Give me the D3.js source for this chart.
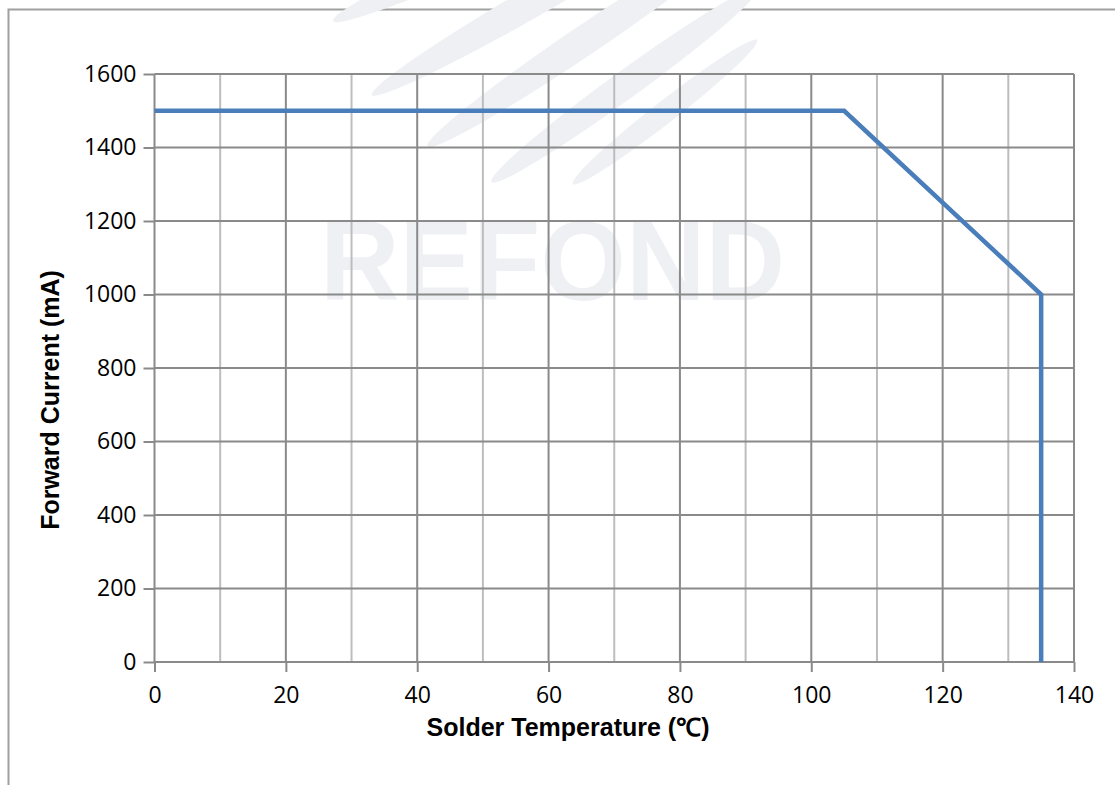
<!DOCTYPE html>
<html><head><meta charset="utf-8">
<script src="https://cdn.jsdelivr.net/npm/d3@7"></script>
<style>body{margin:0;background:#fff}svg{display:block}</style>
</head><body>
<svg id="c" width="1115" height="785"></svg>
<script>
const temps = [0, 105, 135, 135];
const currents = [1500, 1500, 1000, 0];
const xTicks = [0, 20, 40, 60, 80, 100, 120, 140];
const xMinorGrid = [10, 30, 50, 70, 90, 110, 130];
const yTicks = [0, 200, 400, 600, 800, 1000, 1200, 1400, 1600];
const xTitle = "Solder Temperature (℃)";
const yTitle = "Forward Current (mA)";
const watermark = "REFOND";

const svg = d3.select("#c");
const L = 154.5, R = 1074, T = 74, B = 662;
const x = d3.scaleLinear().domain([0, 140]).range([L, R]);
const y = d3.scaleLinear().domain([0, 1600]).range([B, T]);

// outer frame
svg.append("path").attr("d", "M8.5,785 L8.5,9.5 L1115,9.5").attr("fill", "none").attr("stroke", "#a0a0a0").attr("stroke-width", 2);

// watermark swooshes (decorative)
const wm = svg.append("g").attr("fill", "#eef0f4");
[[470, -40, 150, 13, -24], [545, -5, 200, 15, -30], [585, 40, 190, 15, -34], [625, 85, 165, 14, -36], [665, 112, 117, 11, -38]]
  .forEach(([cx, cy, rx, ry, a]) => {
    wm.append("ellipse").attr("cx", cx).attr("cy", cy).attr("rx", rx).attr("ry", ry)
      .attr("transform", `rotate(${a},${cx},${cy})`);
  });
svg.append("text").attr("x", 320).attr("y", 300).attr("textLength", 465).attr("lengthAdjust", "spacingAndGlyphs")
  .attr("font-family", "Liberation Sans Narrow, Liberation Sans, sans-serif").attr("font-weight", "bold")
  .attr("font-size", 114).attr("fill", "#eef0f4").text(watermark);

// grid
const g = svg.append("g");
g.selectAll(".minor").data(xMinorGrid).join("line")
  .attr("x1", d => x(d)).attr("x2", d => x(d)).attr("y1", T).attr("y2", B)
  .attr("stroke", "#bdbdbd").attr("stroke-width", 2);
g.selectAll(".major").data(xTicks).join("line")
  .attr("x1", d => x(d)).attr("x2", d => x(d)).attr("y1", T).attr("y2", B)
  .attr("stroke", "#8a8a8a").attr("stroke-width", 2);
g.selectAll(".hy").data(yTicks).join("line")
  .attr("x1", L).attr("x2", R).attr("y1", d => y(d)).attr("y2", d => y(d))
  .attr("stroke", "#8a8a8a").attr("stroke-width", 2);

// axes
const fontF = "Open Sans, Liberation Sans, sans-serif";
const xa = svg.append("g").attr("transform", `translate(0,${B})`)
  .call(d3.axisBottom(x).tickValues(xTicks).tickSize(10).tickPadding(15).tickFormat(d3.format("d")));
const ya = svg.append("g").attr("transform", `translate(${L},0)`)
  .call(d3.axisLeft(y).tickValues(yTicks).tickSize(11).tickPadding(7).tickFormat(d3.format("d")));
[xa, ya].forEach(a => {
  a.select(".domain").remove();
  a.selectAll(".tick line").attr("stroke", "#8a8a8a").attr("stroke-width", 2);
  a.selectAll(".tick text").attr("font-family", fontF).attr("font-size", 23).attr("fill", "#000");
});

// line
svg.append("path").datum(temps.map((t, i) => [t, currents[i]]))
  .attr("fill", "none").attr("stroke", "#4a7ebb").attr("stroke-width", 4.5)
  .attr("d", d3.line().x(d => x(d[0])).y(d => y(d[1])));

// titles
svg.append("text").attr("x", 568).attr("y", 736).attr("text-anchor", "middle")
  .attr("font-family", "Liberation Sans, Arial, sans-serif").attr("font-weight", "bold").attr("font-size", 25)
  .text(xTitle);
svg.append("text").attr("transform", "translate(59,400) rotate(-90)").attr("text-anchor", "middle")
  .attr("font-family", "Liberation Sans, Arial, sans-serif").attr("font-weight", "bold").attr("font-size", 25)
  .text(yTitle);
</script>
</body></html>
